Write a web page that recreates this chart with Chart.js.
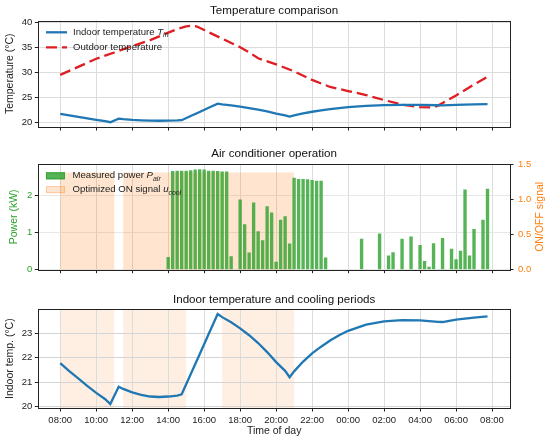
<!DOCTYPE html>
<html>
<head>
<meta charset="utf-8">
<script src="https://cdn.jsdelivr.net/npm/chart.js@4.4.1/dist/chart.umd.min.js"></script>
<style>
  body { margin: 0; background: #fff; }
  #wrap { position: relative; width: 550px; height: 440px; }
  .panel { position: absolute; left: 0; width: 550px; }
</style>
</head>
<body>
<div id="wrap">
  <div class="panel" style="top:0;height:140px"><canvas id="tempChart"></canvas></div>
  <div class="panel" style="top:140px;height:140px"><canvas id="acChart"></canvas></div>
  <div class="panel" style="top:280px;height:160px"><canvas id="coolChart"></canvas></div>
</div>
<script>
// ---- data ----
let tickHours = [8, 10, 12, 14, 16, 18, 20, 22, 24, 26, 28, 30, 32];
let tickLabels = ["08:00", "10:00", "12:00", "14:00", "16:00", "18:00", "20:00",
                  "22:00", "00:00", "02:00", "04:00", "06:00", "08:00"];

// indoor temperature (hours since midnight of day 1)
let indoorHours = [8, 8.5, 9, 9.5, 10, 10.5, 10.78, 11.25, 11.5, 12, 12.5, 13, 13.5, 14, 14.5, 14.75,
                   15.25, 15.75, 16.25, 16.75, 17, 17.5, 18, 18.5, 19, 19.5, 20, 20.5, 20.75,
                   21, 21.5, 22, 22.5, 23, 23.5, 24, 25, 26, 27, 28, 29, 29.25, 30, 31, 31.75];
let indoorTemp = [21.78, 21.45, 21.15, 20.85, 20.56, 20.3, 20.1, 20.81, 20.72, 20.58, 20.48, 20.41, 20.39, 20.41, 20.45, 20.5,
                  21.32, 22.14, 22.97, 23.79, 23.66, 23.45, 23.2, 22.92, 22.6, 22.23, 21.82, 21.46, 21.2,
                  21.44, 21.84, 22.18, 22.45, 22.7, 22.92, 23.1, 23.35, 23.49, 23.54, 23.53, 23.47, 23.46, 23.56, 23.64, 23.69];

let outdoorHours = [8, 9, 10, 11, 12, 13, 14, 14.5, 15, 15.3, 15.6, 16, 17, 18, 18.5, 19, 20, 21, 22,
                    23, 24, 25, 26, 27, 28, 28.75, 29, 30, 31, 31.75];
let outdoorTemp = [29.5, 31.1, 32.7, 33.95, 35.2, 36.4, 37.9, 38.6, 39.15, 39.3, 39.1, 38.4, 36.7, 35.0, 34.0, 32.8, 31.6, 30.2, 28.5,
                   27.1, 26.3, 25.5, 24.5, 23.6, 23.1, 23.05, 23.4, 25.4, 27.6, 29.1];

// measured power, one value per 15 min from 08:00
let powerStart = 8;
let powerStep = 0.25;
let powerKW = [
  0, 0, 0, 0, 0, 0, 0, 0, 0, 0, 0, 0,             // 08:00 - 10:45
  0, 0, 0, 0, 0, 0, 0, 0, 0, 0, 0, 0,             // 11:00 - 13:45
  0.34, 2.64, 2.65, 2.65, 2.65, 2.66, 2.68, 2.69, // 14:00 - 15:45
  2.68, 2.65, 2.65, 2.64, 2.63, 2.63, 0.36, 0,    // 16:00 - 17:45
  1.88, 1.22, 0.46, 1.80, 1.03, 0.79, 1.70, 1.53, // 18:00 - 19:45
  0.21, 1.34, 1.43, 0.70, 2.46, 2.43, 2.43, 2.42, // 20:00 - 21:45
  2.40, 2.38, 2.38, 0.33, 0, 0, 0, 0,             // 22:00 - 23:45
  0, 0, 0, 0.83, 0, 0, 0, 0.97,                   // 00:00 - 01:45
  0, 0.38, 0.47, 0, 0.83, 0, 0.89, 0,             // 02:00 - 03:45
  0.66, 0.23, 0.08, 0.71, 0, 0.85, 0, 0.56,       // 04:00 - 05:45
  0.28, 0.51, 2.15, 0.38, 1.09, 0, 1.34, 2.17     // 06:00 - 07:45
];

let acOnSpans = [[8, 11], [11.5, 21]];
let acOnLevel = 1.38;
let coolSpans = [[8, 11], [11.5, 15], [17, 21]];

let tempTicks = [20, 25, 30, 35, 40];
let powerTicks = [0, 1, 2];
let signalTicks = [0, 0.5, 1, 1.5];
let indoorTicks = [20, 21, 22, 23];

// ---- style ----
const FONT = '"Liberation Sans", Arial, Helvetica, sans-serif';
Chart.defaults.font.family = FONT;
Chart.defaults.color = "#222";
const BLUE = "#1f77b4";
const RED = "rgb(222,30,34)";
const GREEN = "rgb(44,160,44)";
const ORANGE = "rgb(255,127,14)";

function pts(xs, ys) {
  return xs.map((x, i) => ({ x: x, y: ys[i] }));
}

function xAxis(height, labels) {
  return {
    type: "linear",
    min: 6.78,
    max: 33.0,
    offset: false,
    afterBuildTicks: (s) => { s.ticks = tickHours.map((v) => ({ value: v })); },
    afterFit: (s) => { s.height = height; },
    ticks: {
      display: labels,
      autoSkip: false,
      maxRotation: 0,
      padding: 3,
      font: { size: 9.5 },
      color: "#222",
      callback: (v, i) => tickLabels[i],
    },
    grid: { color: "#dcdcdc", tickColor: "#222", tickLength: 3.5, offset: false },
    border: { display: false },
  };
}

function yAxis(min, max, ticks, opts) {
  return {
    position: opts.position || "left",
    min: min,
    max: max,
    afterBuildTicks: (s) => { s.ticks = ticks.map((v) => ({ value: v })); },
    afterFit: (s) => { s.width = opts.width; },
    ticks: {
      padding: opts.padding || 2.5,
      font: { size: 9.5 },
      color: opts.color || "#222",
      callback: opts.fmt || ((v) => v),
    },
    title: opts.title ? {
      display: true,
      text: opts.title,
      color: opts.color || "#222",
      font: { size: 10.5 },
      padding: { top: opts.titlePad, bottom: 0 },
    } : { display: false },
    grid: {
      color: opts.gridColor || "#dcdcdc",
      tickColor: "#222",
      tickLength: 3.5,
      drawOnChartArea: opts.grid !== false,
    },
    border: { display: false },
  };
}

function panelTitle(text, padTop, padBottom) {
  return {
    display: true,
    text: text,
    fullSize: false,
    color: "#111",
    font: { size: 11.6, weight: "normal" },
    padding: { top: padTop, bottom: padBottom },
  };
}

// draw text with italic symbol + subscript
function drawRich(ctx, x, y, parts, size) {
  parts.forEach((p) => {
    let fs = p.sub ? size * 0.72 : size;
    ctx.font = (p.it ? "italic " : "") + fs + "px " + FONT;
    ctx.fillText(p.t, x, y + (p.sub ? size * 0.32 : 0));
    x += ctx.measureText(p.t).width;
  });
}

function makeFrame() {
  return {
    id: "frame",
    afterDraw(chart) {
      const { ctx, chartArea: a } = chart;
      ctx.save();
      ctx.strokeStyle = "#222";
      ctx.lineWidth = 1;
      ctx.strokeRect(Math.round(a.left) + 0.5, Math.round(a.top) + 0.5,
                     Math.round(a.right) - Math.round(a.left), Math.round(a.bottom) - Math.round(a.top));
      ctx.restore();
    },
  };
}

function makeSpans(ranges, color, axis, level, under) {
  function paint(chart) {
    const { ctx, chartArea: a } = chart;
    const xs = chart.scales.x;
    const ys = chart.scales[axis];
    const top = level == null ? a.top : ys.getPixelForValue(level);
    ctx.save();
    ctx.fillStyle = color;
    ranges.forEach((r) => {
      const x0 = xs.getPixelForValue(r[0]);
      const x1 = xs.getPixelForValue(r[1]);
      ctx.fillRect(x0, top, x1 - x0, a.bottom - top);
    });
    ctx.restore();
  }
  return {
    id: "spans",
    beforeDraw(chart) { if (under) paint(chart); },
    beforeDatasetsDraw(chart) { if (!under) paint(chart); },
  };
}

function makeLegend(cfg) {
  return {
    id: "mplLegend",
    afterDatasetsDraw(chart) {
      const ctx = chart.ctx;
      ctx.save();
      cfg.items.forEach((it, i) => {
        const y = cfg.y + i * cfg.rowGap;
        if (it.kind === "line") {
          ctx.strokeStyle = it.color;
          ctx.lineWidth = 2.3;
          ctx.setLineDash(it.dash || []);
          ctx.beginPath();
          ctx.moveTo(cfg.x, y);
          ctx.lineTo(cfg.x + cfg.w, y);
          ctx.stroke();
          ctx.setLineDash([]);
        } else {
          ctx.fillStyle = it.color;
          ctx.fillRect(cfg.x, y - 3.5, cfg.w, 7);
          ctx.strokeStyle = it.edge;
          ctx.lineWidth = 1;
          ctx.strokeRect(cfg.x + 0.5, y - 3, cfg.w - 1, 6);
        }
        ctx.fillStyle = "#222";
        ctx.textBaseline = "middle";
        drawRich(ctx, cfg.x + cfg.w + cfg.gap, y, it.text, 9.6);
      });
      if (cfg.sideTitle) {
        const a = chart.chartArea;
        ctx.translate(cfg.sideTitle.x, (a.top + a.bottom) / 2);
        ctx.rotate(-Math.PI / 2);
        ctx.font = "10.5px " + FONT;
        ctx.fillStyle = cfg.sideTitle.color;
        ctx.textAlign = "center";
        ctx.textBaseline = "middle";
        ctx.fillText(cfg.sideTitle.text, 0, 0);
      }
      ctx.restore();
    },
  };
}

// ---- panel 1: temperature comparison ----
new Chart(document.getElementById("tempChart"), {
  type: "line",
  data: {
    datasets: [
      {
        label: "Indoor temperature",
        data: pts(indoorHours, indoorTemp),
        borderColor: BLUE,
        borderWidth: 2.3,
        pointRadius: 0,
        tension: 0,
      },
      {
        label: "Outdoor temperature",
        data: pts(outdoorHours, outdoorTemp),
        borderColor: RED,
        borderWidth: 2.3,
        borderDash: [11, 5],
        pointRadius: 0,
        tension: 0,
      },
    ],
  },
  options: {
    responsive: true,
    maintainAspectRatio: false,
    animation: false,
    layout: { padding: { left: 0, right: 40, top: 0, bottom: 0 } },
    plugins: {
      legend: { display: false },
      tooltip: { enabled: false },
      title: panelTitle("Temperature comparison", 3.9, 2.7),
    },
    scales: {
      x: xAxis(13, false),
      y: yAxis(19.15, 40.3, tempTicks, { width: 38.3, title: "Temperature (°C)", titlePad: 4.2 }),
    },
  },
  plugins: [
    makeFrame(),
    makeLegend({
      x: 46, y: 32.3, w: 21, gap: 6, rowGap: 15,
      items: [
        { kind: "line", color: BLUE, text: [{ t: "Indoor temperature " }, { t: "T", it: true }, { t: "in", it: true, sub: true }] },
        { kind: "line", color: RED, dash: [11, 5], text: [{ t: "Outdoor temperature" }] },
      ],
    }),
  ],
});

// ---- panel 2: air conditioner operation ----
new Chart(document.getElementById("acChart"), {
  type: "bar",
  data: {
    datasets: [
      {
        label: "Measured power",
        data: powerKW.map((v, i) => ({ x: powerStart + i * powerStep, y: v })),
        backgroundColor: "rgba(44,160,44,0.8)",
        borderWidth: 0,
        barPercentage: 0.75,
        categoryPercentage: 1,
        yAxisID: "y",
      },
    ],
  },
  options: {
    responsive: true,
    maintainAspectRatio: false,
    animation: false,
    layout: { padding: { left: 0, right: 0, top: 0, bottom: 0 } },
    plugins: {
      legend: { display: false },
      tooltip: { enabled: false },
      title: panelTitle("Air conditioner operation", 7.0, 3.1),
    },
    scales: {
      x: xAxis(10.3, false),
      y: yAxis(0, 2.83, powerTicks, {
        width: 38.3, title: "Power (kW)", titlePad: 7.6, color: GREEN, gridColor: "#e8e8e8",
      }),
      y2: yAxis(0, 1.5, signalTicks, {
        position: "right", width: 40, padding: 4.5, color: ORANGE, grid: false,
        fmt: (v) => v.toFixed(1),
      }),
    },
  },
  plugins: [
    makeSpans(acOnSpans, "rgba(255,127,14,0.2)", "y2", acOnLevel, false),
    makeFrame(),
    makeLegend({
      x: 46, y: 35.8, w: 19, gap: 7.5, rowGap: 13.8,
      items: [
        { kind: "patch", color: "rgba(44,160,44,0.8)", edge: "rgba(44,160,44,0.8)",
          text: [{ t: "Measured power " }, { t: "P", it: true }, { t: "air", it: true, sub: true }] },
        { kind: "patch", color: "rgba(255,127,14,0.2)", edge: "rgba(255,127,14,0.28)",
          text: [{ t: "Optimized ON signal " }, { t: "u", it: true }, { t: "cool", it: true, sub: true }] },
      ],
      sideTitle: { text: "ON/OFF signal", x: 540, color: ORANGE },
    }),
  ],
});

// ---- panel 3: indoor temperature and cooling periods ----
let coolX = xAxis(32, true);
coolX.title = {
  display: true,
  text: "Time of day",
  color: "#222",
  font: { size: 10.5 },
  padding: { top: 0, bottom: 2.2 },
};
new Chart(document.getElementById("coolChart"), {
  type: "line",
  data: {
    datasets: [
      {
        label: "Indoor temperature",
        data: pts(indoorHours, indoorTemp),
        borderColor: BLUE,
        borderWidth: 2.3,
        pointRadius: 0,
        tension: 0,
      },
    ],
  },
  options: {
    responsive: true,
    maintainAspectRatio: false,
    animation: false,
    layout: { padding: { left: 0, right: 40, top: 0, bottom: 0 } },
    plugins: {
      legend: { display: false },
      tooltip: { enabled: false },
      title: panelTitle("Indoor temperature and cooling periods", 13.0, 2.4),
    },
    scales: {
      x: coolX,
      y: yAxis(19.94, 23.98, indoorTicks, { width: 38.3, title: "Indoor temp. (°C)", titlePad: 4.2, gridColor: "#d4d4d4" }),
    },
  },
  plugins: [
    makeSpans(coolSpans, "rgba(255,127,14,0.12)", "y", null, true),
    makeFrame(),
  ],
});
</script>
</body>
</html>
